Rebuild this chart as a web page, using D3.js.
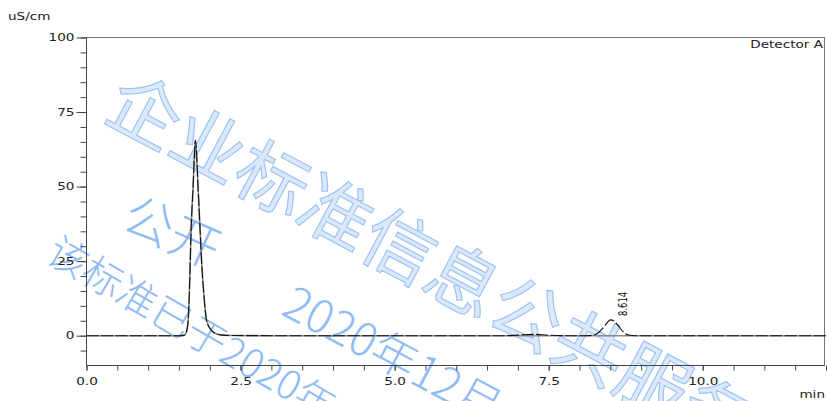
<!DOCTYPE html>
<html><head><meta charset="utf-8">
<script src="https://cdn.jsdelivr.net/npm/d3@7"></script>
<style>
html,body{margin:0;padding:0;background:#fff;}
svg{display:block;}
text{font-family:"DejaVu Sans",Verdana,sans-serif;}
</style></head>
<body>
<svg id="chart" width="827" height="401"></svg>
<script>
// ---- data ----
const xMajorTicks = [0, 2.5, 5, 7.5, 10];
const xMinorTicks = [0,0.5,1,1.5,2,2.5,3,3.5,4,4.5,5,5.5,6,6.5,7,7.5,8,8.5,9,9.5,10,10.5,11,11.5,12];
const yMajorTicks = [0, 25, 50, 75, 100];
const yMinorTicks = [-5,0,5,10,15,20,25,30,35,40,45,50,55,60,65,70,75,80,85,90,95,100];

// trace A (black, dashed) – time (min) / conductivity (uS/cm)
const timeA  = [0, 0.5, 1.0, 1.5, 1.58, 1.61, 1.63, 1.65, 1.67, 1.70, 1.73, 1.75, 1.766, 1.78, 1.81, 1.84, 1.87, 1.90, 1.95, 2.03, 2.10, 2.20, 2.40, 3.0, 4.0, 5.0, 6.0, 6.8, 7.0, 7.25, 7.5, 7.8, 8.1, 8.22, 8.30, 8.38, 8.45, 8.50, 8.56, 8.64, 8.72, 8.80, 8.90, 9.5, 10.5, 12.0];
const valueA = [0, 0,   0,   0,   0.1,  0.6,  2,    5,    15,   37,   50,   60,   65.6,  63,   50,   37,   24,   15,   5,    1.7,  0.7,  0.2,  0.05, 0,   0,   0,   0,   0,   0.2, 0.45, 0.15, 0,  0,   0.15, 0.9,  2.6,  4.4,  5.3,  4.9,  3.0,  1.1,  0.2,  0,    0,   0,    0];

// trace B (grey, solid)
const timeB  = [0, 0.5, 1.0, 1.5, 1.58, 1.61, 1.63, 1.65, 1.67, 1.70, 1.73, 1.75, 1.766, 1.78, 1.81, 1.84, 1.87, 1.90, 1.95, 2.03, 2.10, 2.20, 2.40, 3.0, 5.0, 7.0, 9.0, 12.0];
const valueB = [0, 0,   0,   0,   0.1,  0.6,  2,    5,    15,   37,   50,   60,   65.4,  62.8, 50,   37,   24,   15,   5,    1.7,  0.7,  0.2,  0.05, 0,   0,   0,   0,   0];

const peakLabels = [{t: 8.614, v: 5.3, text: "8.614"}];

const watermarks = [
  {text: "企业标准信息公共服务平台", x: 116, y: 90,  size: 72, angle: 28, kind: "big"},
  {text: "公开",                   x: 128, y: 208, size: 50, angle: 24, kind: "thin"},
  {text: "该标准已于2020年12月",     x: 52,  y: 245, size: 40, angle: 30, kind: "thin"},
  {text: "2020年12月",             x: 289, y: 296, size: 46, angle: 28, kind: "thin"}
];

// ---- layout ----
const svg = d3.select("#chart");
const pLeft = 86.5, pRight = 824.5, pTop = 37.5, pBottom = 365.5;
const TX = 1.36; // horizontal stretch of the text
const x = d3.scaleLinear().domain([0, 12]).range([pLeft, 826]);
const y = d3.scaleLinear().domain([-10, 100]).range([pBottom, pTop]);

// watermark layer
const wm = svg.append("g");
watermarks.forEach(w => {
  const t = wm.append("text")
    .attr("transform", `translate(${w.x},${w.y}) rotate(${w.angle})`)
    .attr("dominant-baseline", "central")
    .style("font-family", '"Noto Sans CJK SC", sans-serif')
    .style("font-size", w.size + "px")
    .text(w.text);
  if (w.kind === "big") {
    t.attr("fill", "#dce9fb").attr("stroke", "#9fc4f3").attr("stroke-width", 1.2)
     .style("font-weight", 400);
  } else {
    t.attr("fill", "#8fbcf5").style("font-weight", 300);
  }
});

// frame
svg.append("rect").attr("x", pLeft).attr("y", pTop)
  .attr("width", pRight - pLeft).attr("height", pBottom - pTop)
  .attr("fill", "none").attr("stroke", "#777").attr("stroke-width", 1);

// axes
const axisColor = "#444";
function styleAxis(g) {
  g.select(".domain").remove();
  g.selectAll("line").attr("stroke", axisColor);
  g.selectAll("text").attr("fill", "#222").style("font-size", "10px")
    .style("font-family", '"DejaVu Sans", sans-serif');
}
svg.append("g").attr("transform", `translate(0,${pBottom})`)
  .call(d3.axisBottom(x).tickValues(xMinorTicks).tickSize(5).tickFormat(""))
  .call(styleAxis);
const gxMaj = svg.append("g").attr("transform", `translate(0,${pBottom})`)
  .call(d3.axisBottom(x).tickValues(xMajorTicks).tickSize(5).tickPadding(7).tickFormat(d3.format(".1f")))
  .call(styleAxis);
gxMaj.selectAll("text").attr("transform", `scale(${TX},1)`);

svg.append("g").attr("transform", `translate(${pLeft},0)`)
  .call(d3.axisLeft(y).tickValues(yMinorTicks).tickSize(6).tickFormat(""))
  .call(styleAxis);
const gyMaj = svg.append("g").attr("transform", `translate(${pLeft},0)`)
  .call(d3.axisLeft(y).tickValues(yMajorTicks).tickSize(10).tickPadding(2))
  .call(styleAxis);
gyMaj.selectAll("text").attr("x", -12 / TX).attr("transform", `scale(${TX},1)`);

// axis lines
svg.append("line").attr("x1", pLeft).attr("x2", pLeft).attr("y1", pTop).attr("y2", pBottom).attr("stroke", axisColor);
svg.append("line").attr("x1", pLeft).attr("x2", pRight).attr("y1", pBottom).attr("y2", pBottom).attr("stroke", axisColor);

// labels
function stretched(xp, yp, txt, anchor) {
  svg.append("g").attr("transform", `translate(${xp},${yp}) scale(${TX},1)`)
    .append("text").attr("text-anchor", anchor).attr("fill", "#222")
    .style("font-size", "10px").text(txt);
}
stretched(8, 20, "uS/cm", "start");
stretched(823, 48, "Detector A", "end");
stretched(825, 398, "min", "end");

// traces
const line = d3.line().x(d => x(d[0])).y(d => y(d[1])).curve(d3.curveMonotoneX);
const dataA = timeA.map((t, i) => [t, valueA[i]]);
const dataB = timeB.map((t, i) => [t, valueB[i]]);
svg.append("path").datum(dataB).attr("d", line)
  .attr("fill", "none").attr("stroke", "#8a8a8a").attr("stroke-width", 1.6);
svg.append("path").datum(dataA).attr("d", line)
  .attr("fill", "none").attr("stroke", "#111").attr("stroke-width", 1.1)
  .attr("stroke-dasharray", "12,2.5");

// peak label
peakLabels.forEach(p => {
  svg.append("text")
    .attr("transform", `translate(${x(p.t) + 10},${y(p.v) - 4}) rotate(-90)`)
    .attr("text-anchor", "start").attr("fill", "#111")
    .attr("textLength", 24).attr("lengthAdjust", "spacingAndGlyphs")
    .style("font-size", "12px").style("font-family", '"DejaVu Sans Condensed","DejaVu Sans",sans-serif')
    .text(p.text);
});
</script>
</body></html>
